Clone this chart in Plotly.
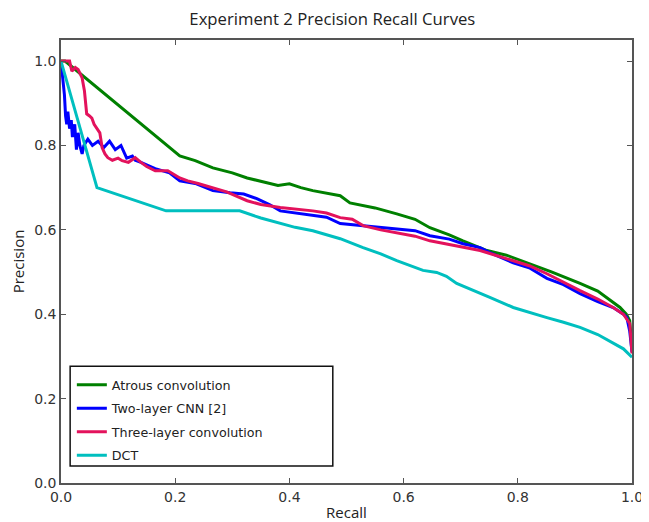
import plotly.graph_objects as go

# Atrous convolution
atrous_recall = [0.0, 0.007, 0.208, 0.235, 0.266, 0.30, 0.326, 0.36, 0.38, 0.40, 0.42,
                 0.441, 0.489, 0.506, 0.55, 0.588, 0.62, 0.646, 0.68, 0.704, 0.746, 0.78, 0.821, 0.86,
                 0.909, 0.94, 0.979, 0.99, 0.996, 1.0]
atrous_precision = [1.0, 1.0, 0.775, 0.764, 0.747, 0.735, 0.723, 0.712, 0.705, 0.709, 0.70,
                    0.693, 0.681, 0.664, 0.652, 0.638, 0.625, 0.605, 0.588, 0.574, 0.551, 0.54, 0.52, 0.50,
                    0.473, 0.455, 0.416, 0.40, 0.385, 0.32]

# Two-layer CNN [2]
cnn_recall = [0.0, 0.003, 0.006, 0.008, 0.01, 0.012, 0.015, 0.018, 0.02, 0.024, 0.027, 0.03, 0.033, 0.037,
              0.04, 0.047, 0.055, 0.065, 0.075, 0.085, 0.095, 0.105, 0.115, 0.125, 0.13, 0.14, 0.165, 0.19,
              0.208, 0.235, 0.266, 0.296, 0.32, 0.343, 0.365, 0.384, 0.41, 0.441, 0.465, 0.489, 0.529, 0.56,
              0.588, 0.62, 0.646, 0.68, 0.704, 0.734, 0.751, 0.792, 0.82, 0.851, 0.88, 0.909, 0.94, 0.967,
              0.985, 0.991, 0.996, 1.0]
cnn_precision = [1.0, 0.96, 0.92, 0.87, 0.85, 0.88, 0.84, 0.86, 0.82, 0.85, 0.79, 0.83, 0.80, 0.78,
                 0.80, 0.815, 0.80, 0.81, 0.795, 0.81, 0.79, 0.80, 0.77, 0.775, 0.765, 0.76, 0.745, 0.735,
                 0.716, 0.71, 0.693, 0.688, 0.685, 0.674, 0.66, 0.645, 0.64, 0.634, 0.63, 0.615, 0.61, 0.605,
                 0.603, 0.598, 0.586, 0.578, 0.567, 0.558, 0.546, 0.522, 0.51, 0.485, 0.47, 0.449, 0.43, 0.416,
                 0.40, 0.392, 0.36, 0.31]

# Three-layer convolution
three_recall = [0.0, 0.003, 0.015, 0.019, 0.025, 0.03, 0.037, 0.041, 0.045, 0.05, 0.054, 0.058, 0.063, 0.068,
                0.072, 0.077, 0.082, 0.09, 0.1, 0.107, 0.118, 0.13, 0.14, 0.15, 0.165, 0.187, 0.208, 0.222,
                0.24, 0.266, 0.29, 0.326, 0.35, 0.384, 0.41, 0.441, 0.465, 0.489, 0.51, 0.529, 0.56, 0.588,
                0.62, 0.646, 0.68, 0.704, 0.734, 0.751, 0.792, 0.82, 0.851, 0.88, 0.909, 0.94, 0.967, 0.985,
                0.996, 1.0]
three_precision = [1.0, 1.0, 1.0, 0.976, 0.985, 0.98, 0.96, 0.93, 0.875, 0.87, 0.865, 0.85, 0.84, 0.83,
                   0.795, 0.78, 0.771, 0.765, 0.77, 0.764, 0.76, 0.771, 0.76, 0.75, 0.74, 0.74, 0.723, 0.716,
                   0.71, 0.70, 0.69, 0.669, 0.66, 0.653, 0.65, 0.645, 0.64, 0.629, 0.625, 0.61, 0.60, 0.593,
                   0.585, 0.574, 0.565, 0.558, 0.551, 0.544, 0.527, 0.515, 0.496, 0.475, 0.456, 0.436, 0.416, 0.40,
                   0.378, 0.307]

# DCT
dct_recall = [0.0, 0.063, 0.184, 0.25, 0.313, 0.35, 0.384, 0.41, 0.441, 0.489, 0.529, 0.56, 0.588, 0.634,
              0.658, 0.675, 0.693, 0.72, 0.751, 0.792, 0.82, 0.851, 0.88, 0.909, 0.94, 0.967, 0.985, 1.0]
dct_precision = [1.0, 0.70, 0.645, 0.645, 0.645, 0.628, 0.615, 0.606, 0.598, 0.579, 0.558, 0.543, 0.527, 0.504,
                 0.499, 0.49, 0.473, 0.458, 0.44, 0.416, 0.404, 0.392, 0.381, 0.369, 0.352, 0.331, 0.318, 0.298]

series = [
    ("Atrous convolution", atrous_recall, atrous_precision, "#008000"),
    ("Two-layer CNN [2]", cnn_recall, cnn_precision, "#0000ff"),
    ("Three-layer convolution", three_recall, three_precision, "#e3125c"),
    ("DCT", dct_recall, dct_precision, "#00bfbf"),
]

fig = go.Figure()
for name, x, y, color in series:
    fig.add_trace(go.Scatter(x=x, y=y, mode="lines", name=name, legendgroup=name,
                             line=dict(color=color, width=3)))

axis_style = dict(showline=True, linecolor="#555555", linewidth=1.5, mirror="ticks",
                  ticks="inside", ticklen=5, tickcolor="#555555", showgrid=False, zeroline=False,
                  automargin=False,
                  tickfont=dict(family="DejaVu Sans", size=14, color="#333333"))

# the page body has an 8px margin, so the figure is sized to fit inside the window
fig.update_layout(
    width=641, height=514,
    margin=dict(l=53, r=17, t=32, b=39),
    paper_bgcolor="white", plot_bgcolor="white",
    title=dict(text="Experiment 2 Precision Recall Curves", x=0.506, xanchor="center", y=0.978,
               yanchor="middle", font=dict(family="Open Sans", size=16.7, color="#222222")),
    xaxis=dict(range=[0, 1], dtick=0.2, tickformat=".1f",
               title=dict(text="Recall", standoff=4, font=dict(family="Open Sans", size=15, color="#222222")),
               **axis_style),
    yaxis=dict(range=[0, 1.05], tickvals=[0, 0.2, 0.4, 0.6, 0.8, 1.0], tickformat=".1f",
               title=dict(text="Precision", standoff=6, font=dict(family="Open Sans", size=15, color="#222222")),
               **axis_style),
    legend=dict(x=0.019, y=0.255, xanchor="left", yanchor="top", bgcolor="rgba(0,0,0,0)",
                borderwidth=0, tracegroupgap=4, traceorder="grouped",
                font=dict(family="DejaVu Sans", size=12.7, color="#222222")),
    shapes=[dict(type="rect", xref="x", yref="y", x0=0.016, x1=0.476, y0=0.04, y1=0.277,
                 line=dict(color="#111111", width=1.5), fillcolor="rgba(0,0,0,0)")],
)

fig.write_html("out.html")
